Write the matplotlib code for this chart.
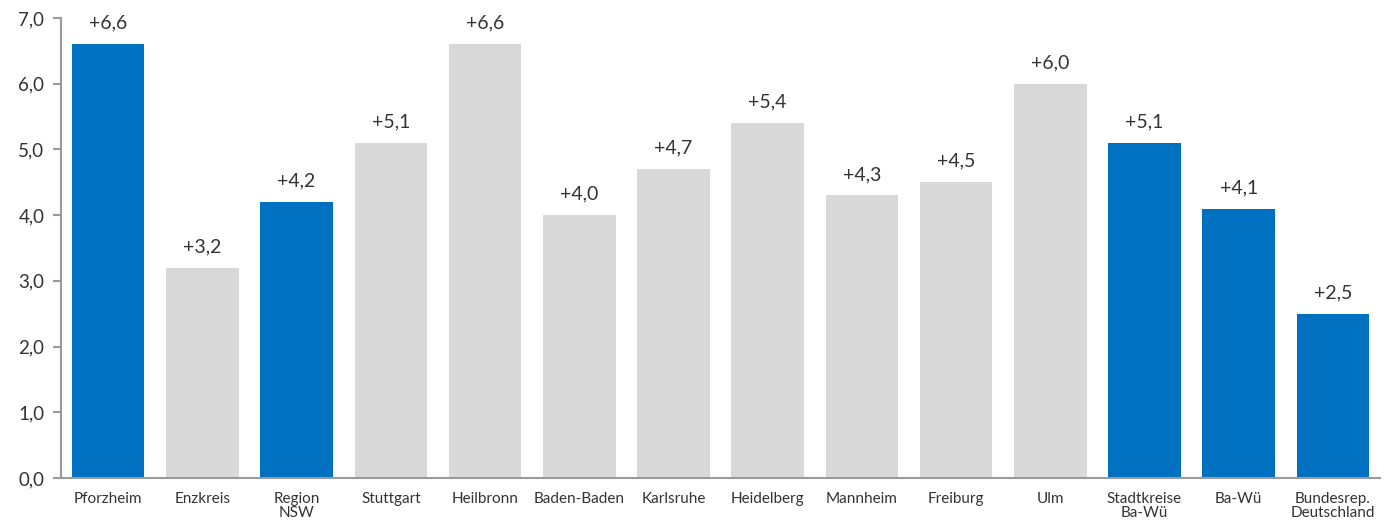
import matplotlib
matplotlib.use("Agg")
import matplotlib.pyplot as plt

categories = ["Pforzheim", "Enzkreis", "Region\nNSW", "Stuttgart", "Heilbronn",
              "Baden-Baden", "Karlsruhe", "Heidelberg", "Mannheim", "Freiburg",
              "Ulm", "Stadtkreise\nBa-Wü", "Ba-Wü", "Bundesrep.\nDeutschland"]
values = [6.6, 3.2, 4.2, 5.1, 6.6, 4.0, 4.7, 5.4, 4.3, 4.5, 6.0, 5.1, 4.1, 2.5]
highlight = [True, False, True, False, False, False, False, False, False, False,
             False, True, True, True]
yticks = [0, 1, 2, 3, 4, 5, 6, 7]

BLUE = "#0070C0"
GREY = "#D9D9D9"
AXIS = "#9A9A9A"
TEXT = "#333333"

plt.rcParams["font.family"] = ["Lato", "DejaVu Sans"]

fig = plt.figure(figsize=(13.94, 5.22), dpi=100)
ax = fig.add_axes([0.0438, 0.0843, 0.9462, 0.8812])

x = range(len(categories))
colors = [BLUE if h else GREY for h in highlight]
ax.bar(x, values, width=0.77, color=colors, zorder=2)

for xi, v in zip(x, values):
    ax.annotate(f"+{v:.1f}".replace(".", ","), (xi, v), xytext=(0, 9),
                textcoords="offset points", ha="center", va="bottom",
                fontsize=14, color=TEXT)

ax.set_xlim(-0.5, 13.5)
ax.set_ylim(0, 7)
ax.set_yticks(yticks)
ax.set_yticklabels([f"{t:.1f}".replace(".", ",") for t in yticks],
                   fontsize=13.5, color=TEXT)
ax.set_xticks(list(x))
ax.set_xticklabels(categories, fontsize=11, color=TEXT, linespacing=1.0)

for s in ("top", "right"):
    ax.spines[s].set_visible(False)
for s in ("left", "bottom"):
    ax.spines[s].set_color(AXIS)
    ax.spines[s].set_linewidth(1.5)
ax.tick_params(axis="y", length=6, width=1.5, color=AXIS, pad=6)
ax.tick_params(axis="x", length=0, pad=10)

fig.savefig("out.png", dpi=100)
